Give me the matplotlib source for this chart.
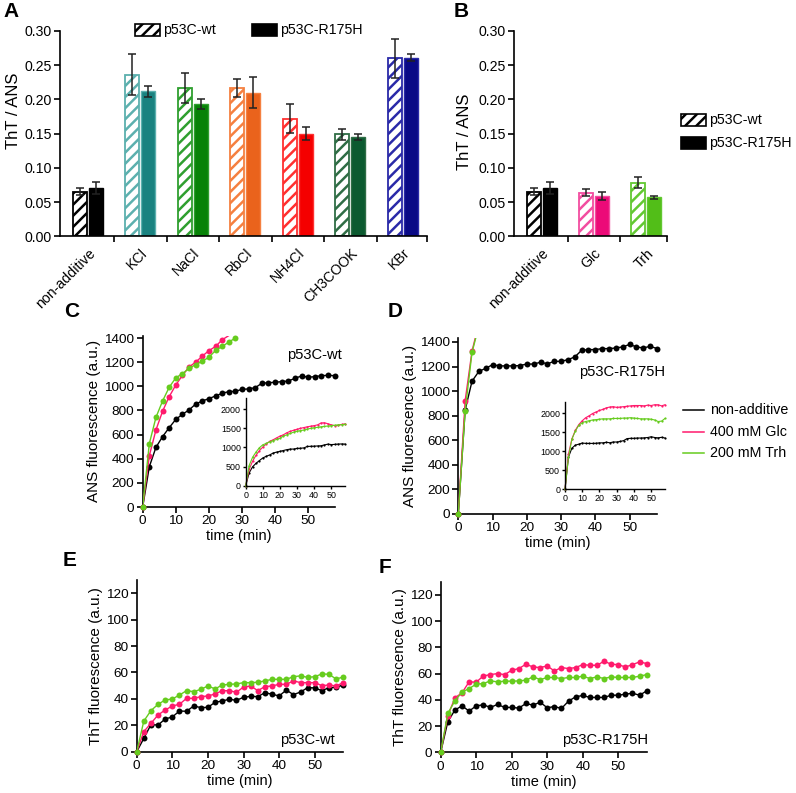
import matplotlib
matplotlib.use('Agg')
import matplotlib.pyplot as plt
from matplotlib.patches import Rectangle
from matplotlib.transforms import ScaledTranslation

plt.rcParams['font.family'] = ['Liberation Sans', 'DejaVu Sans']
plt.rcParams['hatch.linewidth'] = 1.8

W, H = 796, 793

# -------------------------------------------------------------------------------------------------------------------- #
# Data

salts = ['non-additive', 'KCl', 'NaCl', 'RbCl', 'NH4Cl', 'CH3COOK', 'KBr']
salt_wt = [0.065, 0.236, 0.217, 0.217, 0.172, 0.149, 0.260]
salt_wt_err = [0.005, 0.030, 0.022, 0.013, 0.021, 0.008, 0.029]
salt_mut = [0.071, 0.212, 0.193, 0.210, 0.150, 0.145, 0.261]
salt_mut_err = [0.009, 0.008, 0.007, 0.023, 0.010, 0.004, 0.005]
salt_fill = ['black', '#1a8280', '#078207', '#ea631c', '#f50000', '#0c5a30', '#0a0a86']
salt_edge = ['black', '#5cb0ae', '#2f9f2f', '#f58040', '#ff3030', '#2f6d45', '#2a2aa8']

sugars = ['non-additive', 'Glc', 'Trh']
sugar_wt = [0.065, 0.064, 0.078]
sugar_wt_err = [0.005, 0.005, 0.008]
sugar_mut = [0.071, 0.059, 0.057]
sugar_mut_err = [0.009, 0.006, 0.002]
sugar_fill = ['black', '#ec0a78', '#52be18']
sugar_edge = ['black', '#f24da0', '#62c832']

time = [0, 2, 4, 6, 8, 10, 12, 14, 16, 18, 20, 22, 24, 26, 28,
        30, 32, 34, 36, 38, 40, 42, 44, 46, 48, 50, 52, 54, 56, 58]

# ANS kinetics, p53C-wt
ans_wt_none = [0, 334, 494, 583, 657, 726, 768, 804, 853, 878, 898, 920, 942, 956, 958,
               975, 978, 989, 1025, 1030, 1033, 1039, 1044, 1066, 1086, 1075, 1080, 1088, 1091, 1088]
ans_wt_glc = [0, 425, 638, 793, 914, 1011, 1090, 1160, 1200, 1250, 1295, 1330, 1385, 1420, 1450,
              1475, 1500, 1520, 1540, 1555, 1570, 1590, 1640, 1645, 1620, 1590, 1570, 1575, 1600, 1615]
ans_wt_trh = [0, 525, 742, 878, 992, 1070, 1105, 1148, 1180, 1208, 1240, 1297, 1330, 1366, 1400,
              1425, 1440, 1455, 1480, 1500, 1515, 1525, 1540, 1550, 1560, 1570, 1580, 1590, 1595, 1605]

# ANS kinetics, p53C-R175H
ans_mut_none = [0, 845, 1080, 1160, 1185, 1215, 1205, 1205, 1205, 1208, 1220, 1220, 1235, 1222, 1242,
                1242, 1256, 1278, 1332, 1338, 1338, 1346, 1346, 1351, 1360, 1380, 1360, 1351, 1365, 1346]
ans_mut_glc = [0, 920, 1325, 1550, 1700, 1800, 1880, 1930, 1990, 2030, 2070, 2100, 2140, 2160, 2170,
               2150, 2160, 2170, 2180, 2190, 2200, 2200, 2200, 2190, 2210, 2200, 2220, 2220, 2190, 2220]
ans_mut_trh = [0, 840, 1315, 1530, 1680, 1750, 1780, 1800, 1820, 1830, 1840, 1850, 1850, 1850, 1860,
               1860, 1860, 1870, 1870, 1880, 1870, 1860, 1850, 1850, 1850, 1840, 1820, 1780, 1790, 1860]

# ThT kinetics, p53C-wt
tht_wt_none = [0, 10.1, 20.5, 20.2, 24.8, 26.3, 30.8, 30.6, 34.6, 33.4, 33.6, 37.4, 38.4, 39.7, 38.9,
               41.2, 41.9, 41.7, 44.7, 43.5, 42.2, 46.7, 43.2, 45.2, 48.5, 48.3, 46.2, 48.5, 48.8, 50.5]
tht_wt_glc = [0, 15.2, 21.5, 27.8, 31.6, 34.6, 35.9, 40.4, 40.4, 41.7, 42.2, 43.7, 46.2, 46.2, 45.0,
              49.0, 49.8, 46.2, 49.3, 49.8, 51.0, 51.0, 53.6, 52.3, 52.3, 52.3, 50.0, 50.5, 49.8, 52.3]
tht_wt_trh = [0, 23.2, 31.1, 35.9, 39.2, 39.9, 42.9, 46.2, 45.5, 47.2, 49.8, 47.5, 50.5, 51.0, 51.3,
              52.3, 52.3, 52.6, 53.6, 54.8, 54.8, 54.8, 56.8, 57.4, 56.3, 56.8, 58.9, 58.6, 55.0, 56.6]

# ThT kinetics, p53C-R175H
tht_mut_none = [0, 23.3, 32.2, 35.4, 31.4, 35.4, 36.2, 34.2, 36.5, 34.2, 34.2, 33.7, 37.2, 35.9, 38.2,
                33.9, 34.9, 33.4, 39.0, 42.3, 43.3, 41.8, 41.8, 41.8, 43.5, 43.5, 44.3, 45.0, 43.5, 46.8]
tht_mut_glc = [0, 27.8, 41.5, 45.3, 53.7, 53.4, 58.2, 59.2, 60.0, 59.2, 62.5, 63.8, 67.1, 65.0, 64.6,
               65.8, 62.0, 64.6, 63.8, 64.6, 66.8, 66.3, 66.3, 69.4, 67.1, 66.8, 65.0, 66.8, 68.9, 67.6]
tht_mut_trh = [0, 29.6, 39.2, 45.8, 48.6, 51.9, 52.4, 54.4, 53.7, 54.2, 54.2, 54.4, 55.0, 57.5, 55.4,
               57.0, 57.0, 56.2, 57.0, 57.0, 58.0, 56.2, 57.5, 56.2, 57.5, 57.0, 57.0, 57.0, 58.0, 59.2]

series_names = ['non-additive', '400 mM Glc', '200 mM Trh']
series_colors = ['black', '#ff1a6c', '#66cc1e']


# -------------------------------------------------------------------------------------------------------------------- #

# Adds axes from a pixel box (left, top, right, bottom)
def box(l, t, r, b):
    return fig.add_axes([l / W, 1 - b / H, (r - l) / W, (b - t) / H])


# Common look: only left/bottom spines, outward ticks
def style(ax, size=9.7, lw=1.2):
    for s in ['top', 'right']:
        ax.spines[s].set_visible(False)
    for s in ['left', 'bottom']:
        ax.spines[s].set_linewidth(lw)
    ax.tick_params(direction='out', length=4, width=lw, labelsize=size, pad=2)


# Grouped bar chart with hatched wt bars and filled mutant bars
def bar_panel(ax, names, wt, wt_err, mut, mut_err, fills, edges, right):
    x = list(range(len(names)))
    off, w = 0.153, 0.265
    for i in x:
        ax.bar(i - off, wt[i], w, color='white', edgecolor=edges[i], hatch='///', linewidth=1.3)
        ax.bar(i + off, mut[i], w, color=fills[i], edgecolor=edges[i], linewidth=1.0)
    ax.errorbar([i - off for i in x], wt, yerr=wt_err, fmt='none', ecolor='#222222',
                elinewidth=1.1, capsize=2.6, capthick=1.1)
    ax.errorbar([i + off for i in x], mut, yerr=mut_err, fmt='none', ecolor='#222222',
                elinewidth=1.1, capsize=2.6, capthick=1.1)
    style(ax, size=10.2)
    ax.set_xlim(-0.53, right)
    ax.set_ylim(0, 0.30)
    ax.set_yticks([0, 0.05, 0.10, 0.15, 0.20, 0.25, 0.30])
    ax.set_yticklabels(['%.2f' % v for v in ax.get_yticks()])
    ax.set_xticks(x)
    ax.set_xticklabels(names, rotation=45, ha='right', va='top', rotation_mode='anchor', fontsize=10.2)
    # nudge the slanted labels so their upper end sits under the group
    shift = ScaledTranslation(-6 / 100, 0, fig.dpi_scale_trans)
    for lab in ax.get_xticklabels():
        lab.set_transform(lab.get_transform() + shift)
    ax.tick_params(axis='x', which='major', length=0, pad=7)
    ax.set_xticks([i + 0.5 for i in x[:-1]] + [right], minor=True)
    ax.tick_params(axis='x', which='minor', direction='out', length=4, width=1.2)
    ax.set_ylabel('ThT / ANS', fontsize=12)


# Kinetic curves with big markers; markers only where the value is on the plot
def kinetic(ax, curves, mark_max, ms=4.3, lw=1.0, n_pts=None):
    for k, y in enumerate(curves):
        n = len(y) if n_pts is None else n_pts[k]
        ax.plot(time[:n], y[:n], '-', color=series_colors[k], lw=lw, zorder=2 + k)
        keep = [(tt, v) for tt, v in zip(time[:n], y[:n]) if v <= mark_max]
        ax.plot([p[0] for p in keep], [p[1] for p in keep], 'o', color=series_colors[k],
                ms=ms, mec='none', clip_on=False, zorder=3 + k)


# Small inset with the full ANS curves
def inset(ax, curves):
    for k, y in enumerate(curves):
        ax.plot(time, y, '-o', color=series_colors[k], lw=0.8, ms=1.6, mec='none', clip_on=False)
    style(ax, size=6.4, lw=1.0)
    ax.tick_params(length=2.5, pad=1)
    ax.set_xlim(0, 58)
    ax.set_ylim(0, 2300)
    ax.set_xticks([0, 10, 20, 30, 40, 50])
    ax.set_yticks([0, 500, 1000, 1500, 2000])
    ax.patch.set_alpha(0)


# Legend entry for the bar charts, placed in figure pixels
def legend_patch(x, y, hatched, label):
    r = Rectangle((x / W, 1 - (y + 6) / H), 25 / W, 12 / H, transform=fig.transFigure,
                  facecolor='white' if hatched else 'black', edgecolor='black',
                  hatch='///' if hatched else None, linewidth=1.2)
    fig.patches.append(r)
    fig.text((x + 28) / W, 1 - y / H, label, fontsize=10.2, va='center', ha='left')


# Axis labels and ticks for the kinetic panels
def kinetic_axes(ax, top, yticks, ylabel):
    style(ax)
    ax.set_xlim(0, 58)
    ax.set_ylim(0, top)
    ax.set_xticks([0, 10, 20, 30, 40, 50])
    ax.set_yticks(yticks)
    ax.set_xlabel('time (min)', fontsize=10.5, labelpad=1.5)
    ax.set_ylabel(ylabel, fontsize=11, labelpad=2)


# -------------------------------------------------------------------------------------------------------------------- #

fig = plt.figure(figsize=(W / 100, H / 100), dpi=100)

# Panel A: salts
axA = box(60, 31, 427, 236.3)
bar_panel(axA, salts, salt_wt, salt_wt_err, salt_mut, salt_mut_err, salt_fill, salt_edge, 6.46)
axA.yaxis.set_label_coords(-0.107, 0.61)

# Panel B: sugars
axB = box(514, 31, 667, 236.3)
bar_panel(axB, sugars, sugar_wt, sugar_wt_err, sugar_mut, sugar_mut_err, sugar_fill, sugar_edge, 2.4)
axB.yaxis.set_label_coords(-0.275, 0.51)

legend_patch(135, 30, True, 'p53C-wt')
legend_patch(252, 30, False, 'p53C-R175H')
legend_patch(681, 120, True, 'p53C-wt')
legend_patch(681, 143, False, 'p53C-R175H')

# Panel C: ANS, p53C-wt
axC = box(142.7, 335.6, 334.7, 507)
kinetic(axC, [ans_wt_none, ans_wt_glc, ans_wt_trh], 1400, n_pts=[30, 14, 15])
kinetic_axes(axC, 1420, range(0, 1401, 200), 'ANS fluorescence (a.u.)')
axC.text(1.035, 0.885, 'p53C-wt', transform=axC.transAxes, ha='right', va='center', fontsize=10.6)
inset(box(245.7, 397.7, 345, 485.7), [ans_wt_none, ans_wt_glc, ans_wt_trh])

# Panel D: ANS, p53C-R175H
axD = box(458.3, 338.3, 657, 513.7)
kinetic(axD, [ans_mut_none, ans_mut_glc, ans_mut_trh], 1400, n_pts=[30, 4, 4])
kinetic_axes(axD, 1430, range(0, 1401, 200), 'ANS fluorescence (a.u.)')
axD.text(1.04, 0.81, 'p53C-R175H', transform=axD.transAxes, ha='right', va='center', fontsize=10.6)
inset(box(565, 401.7, 665, 489.3), [ans_mut_none, ans_mut_glc, ans_mut_trh])

# Line legend next to D
for k, name in enumerate(series_names):
    yy = 1 - (410 + 21.5 * k) / H
    fig.add_artist(plt.Line2D([683 / W, 704 / W], [yy, yy], color=series_colors[k], lw=1.1))
    fig.text(710 / W, yy, name, fontsize=10.3, va='center', ha='left')

# Panel E: ThT, p53C-wt
axE = box(136.7, 580, 343.3, 751.7)
kinetic(axE, [tht_wt_none, tht_wt_glc, tht_wt_trh], 130)
kinetic_axes(axE, 130, range(0, 121, 20), 'ThT fluorescence (a.u.)')
axE.text(0.96, 0.07, 'p53C-wt', transform=axE.transAxes, ha='right', va='center', fontsize=10.6)

# Panel F: ThT, p53C-R175H
axF = box(440.7, 581.7, 646.7, 752.3)
kinetic(axF, [tht_mut_none, tht_mut_glc, tht_mut_trh], 130)
kinetic_axes(axF, 130, range(0, 121, 20), 'ThT fluorescence (a.u.)')
axF.text(1.005, 0.07, 'p53C-R175H', transform=axF.transAxes, ha='right', va='center', fontsize=10.6)

# Panel letters
for letter, x, y in [('A', 3, 2), ('B', 454, 2), ('C', 64, 302), ('D', 388, 302), ('E', 63, 551), ('F', 379, 558)]:
    fig.text(x / W, 1 - y / H, letter, fontsize=15, fontweight='bold', ha='left', va='top')

fig.savefig('out.png', dpi=100)
